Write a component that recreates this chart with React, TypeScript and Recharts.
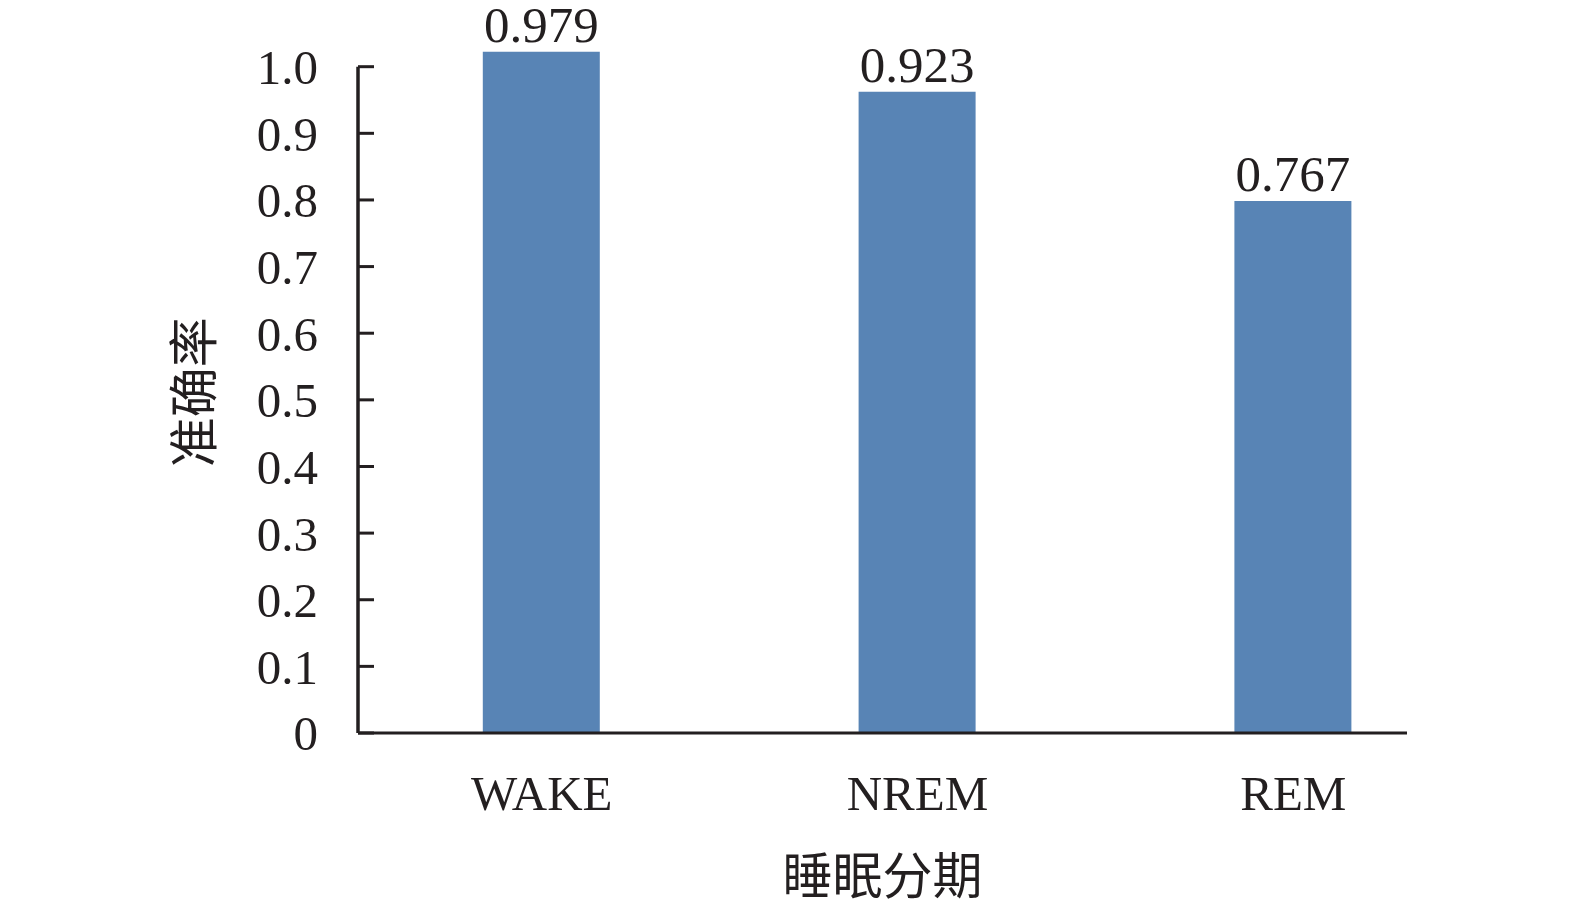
import React from 'react';
import { BarChart, Bar, XAxis, YAxis, LabelList, Label, ReferenceLine } from 'recharts';

const categories = ['WAKE', 'NREM', 'REM'];
const barValues = [1.0225, 0.9625, 0.7984];
const labelTexts = ['0.979', '0.923', '0.767'];
const yTicks = [0, 0.1, 0.2, 0.3, 0.4, 0.5, 0.6, 0.7, 0.8, 0.9, 1.0];
const xTitle = '睡眠分期';
const yTitle = '准确率';

const data = categories.map((name, i) => ({ name, value: barValues[i], label: labelTexts[i] }));

const INK = '#231f20';
const SERIF = "'Liberation Serif', 'Times New Roman', serif";
const CJK = "'Noto Sans CJK SC', sans-serif";

export default function App() {
  return (
    <div style={{ position: 'absolute', left: 0, top: 0, width: 1575, height: 903, background: '#fff' }}>
      <BarChart
        width={1575}
        height={903}
        data={data}
        margin={{ top: 51.7, right: 168, bottom: 0, left: 30 }}
      >
        <XAxis
          dataKey="name"
          type="category"
          padding={{ left: -4.2, right: -74.2 }}
          tickLine={false}
          tickSize={0}
          tickMargin={42}
          axisLine={{ stroke: INK, strokeWidth: 3 }}
          height={170}
          tick={{ fontSize: 49, fill: INK, fontFamily: SERIF }}
        >
          <Label
            value={xTitle}
            position="insideBottom"
            offset={9}
            style={{ fontSize: 50, fill: INK, fontFamily: CJK }}
          />
        </XAxis>
        <XAxis xAxisId="frame" type="number" domain={[0, 1]} hide />
        <YAxis
          type="number"
          domain={[0, 'dataMax']}
          ticks={yTicks}
          interval={0}
          width={328}
          axisLine={false}
          tickSize={-16}
          tickMargin={56}
          tickLine={{ stroke: INK, strokeWidth: 3 }}
          tickFormatter={(v: number) => (v === 0 ? '0' : v.toFixed(1))}
          tick={{ fontSize: 49, fill: INK, fontFamily: SERIF }}
        >
          <Label
            value={yTitle}
            angle={-90}
            position="center"
            style={{ fontSize: 50, fill: INK, fontFamily: CJK }}
          />
        </YAxis>
        <ReferenceLine
          xAxisId="frame"
          segment={[{ x: 0, y: 0 }, { x: 0, y: 1 }]}
          stroke={INK}
          strokeWidth={3.5}
          ifOverflow="visible"
        />
        <Bar dataKey="value" fill="#5884b5" barSize={117} isAnimationActive={false}>
          <LabelList
            dataKey="label"
            position="top"
            offset={10}
            style={{ fontSize: 51, fill: INK, fontFamily: SERIF }}
          />
        </Bar>
      </BarChart>
    </div>
  );
}
